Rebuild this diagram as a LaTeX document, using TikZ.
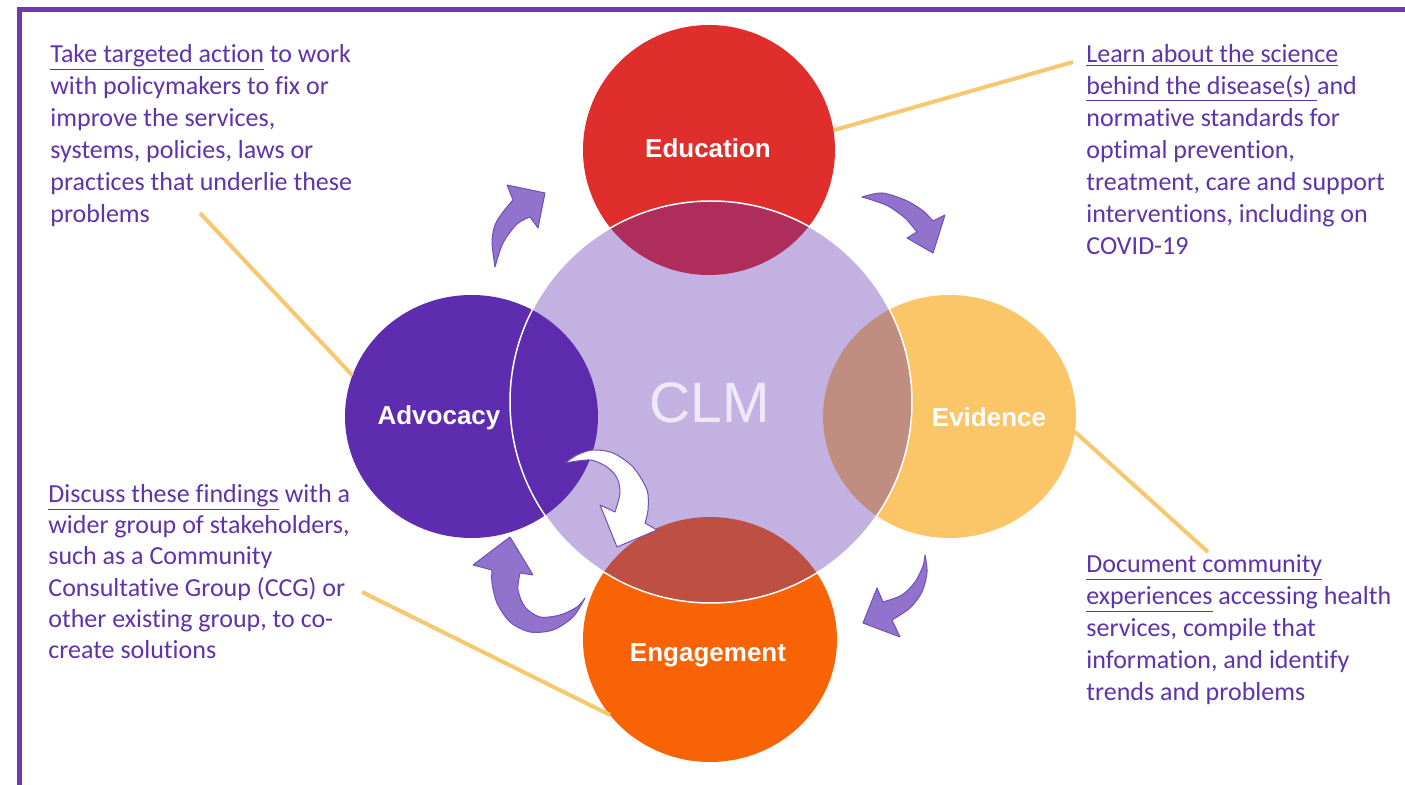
\documentclass[tikz,border=0pt]{standalone}
\usepackage{fontspec}
\setmainfont{Carlito}[Ligatures=NoCommon]
\newfontfamily\arialf{Liberation Sans}
\usetikzlibrary{shapes.geometric}
\definecolor{txt}{RGB}{96,50,172}
\definecolor{frame}{RGB}{115,55,175}
\definecolor{edu}{RGB}{224,46,44}
\definecolor{evi}{RGB}{250,198,104}
\definecolor{eng}{RGB}{248,100,5}
\definecolor{adv}{RGB}{94,44,174}
\definecolor{clm}{RGB}{93,44,174}
\definecolor{arrfill}{RGB}{145,115,205}
\definecolor{arrline}{RGB}{112,80,182}
\definecolor{link}{RGB}{248,200,112}
\definecolor{clmtext}{RGB}{238,232,248}
\tikzset{
  txtblock/.style={anchor=north west, align=left, inner sep=0pt, text=txt,
    font=\fontsize{13}{16}\selectfont},
  blob/.style={ellipse, inner sep=0pt, outer sep=0pt, text=white,
    font=\arialf\bfseries\fontsize{13}{15.6}\selectfont},
  linkline/.style={draw=link, line width=2pt},
  arr/.style={fill=arrfill, draw=arrline, line width=0.5pt, line join=round},
  warr/.style={fill=white, draw=arrline, line width=0.5pt, line join=round},
}
\begin{document}
\begin{tikzpicture}[x=0.5pt,y=-0.5pt]
\useasboundingbox (0,0) rectangle (1405,785);
\fill[white] (0,0) rectangle (1405,785);
% frame
\draw[frame, line width=2.25pt] (19.5,785) -- (19.5,9.5) -- (1405,9.5);

% text blocks
\node[txtblock] (tl) at (50,44) {\underline{Take targeted action} to work\\
with policymakers to fix or\\
improve the services,\\
systems, policies, laws or\\
practices that underlie these\\
problems};
\node[txtblock] (tr) at (1086,44) {\underline{Learn about the science}\\
\underline{behind the disease(s)\ }and\\
normative standards for\\
optimal prevention,\\
treatment, care and support\\
interventions, including on\\
COVID-19};
\node[txtblock, font=\fontsize{13}{15.6}\selectfont] (bl) at (48,484) {\underline{Discuss these findings} with a\\
wider group of stakeholders,\\
such as a Community\\
Consultative Group (CCG) or\\
other existing group, to co-\\
create solutions};
\node[txtblock] (br) at (1086,554) {\underline{Document community}\\
\underline{experiences} accessing health\\
services, compile that\\
information, and identify\\
trends and problems};

% circles
\node[blob, fill=edu, minimum width=126pt, minimum height=125pt] (edu) at (709,150) {};
\node[blob, fill=evi, minimum width=126.5pt, minimum height=121.5pt] (evi) at (949.5,416.5) {};
\node[blob, fill=eng, minimum width=127pt, minimum height=122.5pt] (eng) at (710,639.5) {};
\node[blob, fill=adv, minimum width=126.5pt, minimum height=121.5pt] (adv) at (471.5,416.5) {};

% connector end points near the texts
\coordinate (tlend) at (200,213);
\coordinate (trend) at (1073,62);
\coordinate (blend) at (362,592);
\coordinate (brend) at (1208,552);
\draw[linkline] (edu.9) -- (trend);
\draw[linkline] (tlend) -- (adv.161);
\draw[linkline] (evi.-7) -- (brend);
\draw[linkline] (blend) -- (eng.217);

% CLM overlay
\node[circle, minimum size=201pt, inner sep=0pt, outer sep=0pt,
  fill=clm, fill opacity=0.37, draw=white, draw opacity=1, line width=0.75pt] (clm) at (711,402) {};
\node[text=clmtext, font=\arialf\fontsize{28.5}{30}\selectfont, inner sep=0pt] (clmlabel) at (710,403) {CLM};

% circle labels
\node[blob] (edulabel) at (708,148) {Education};
\node[blob] (evilabel) at (989,417) {Evidence};
\node[blob] (englabel) at (708,655) {Engagement};
\node[blob] (advlabel) at (439,418) {Advocacy};

% curved arrows
\draw[arr] plot[smooth] coordinates {(495,267) (492,242) (495,225) (503,212) (513,200)}
  -- (507,185) -- (545,193) -- (538,228) -- (530,217)
  -- plot[smooth] coordinates {(530,217) (517,224) (503,243) (495,267)} -- cycle;
\draw[arr] plot[smooth] coordinates {(862,197) (882,193) (905,200) (922,210) (933,221)}
  -- (945,215) -- (933,253) -- (907,238) -- (917,232)
  -- plot[smooth] coordinates {(917,232) (905,218) (888,206) (872,200) (862,197)} -- cycle;
\draw[arr] plot[smooth] coordinates {(925,555) (927,572) (922,592) (910,608) (892,620)}
  -- (900,637) -- (863,623) -- (877,588) -- (883,602)
  -- plot[smooth] coordinates {(883,602) (902,595) (915,582) (923,566) (925,555)} -- cycle;
\draw[arr] plot[smooth] coordinates {(585,598) (573,617) (553,630) (530,632) (510,622) (497,603) (492,583) (492,570)}
  -- (473,565) -- (510,537) -- (533,575) -- (520,573)
  -- plot[smooth] coordinates {(520,573) (518,590) (525,607) (540,617) (560,615) (577,607) (585,598)} -- cycle;
\draw[warr] plot[smooth] coordinates {(565,463) (577,455) (593,450) (613,453) (633,467) (647,490) (648,510) (645,523)}
  -- (657,530) -- (617,547) -- (600,505) -- (615,512)
  -- plot[smooth] coordinates {(615,512) (620,493) (617,478) (607,467) (590,460) (565,463)} -- cycle;
\end{tikzpicture}
\end{document}
